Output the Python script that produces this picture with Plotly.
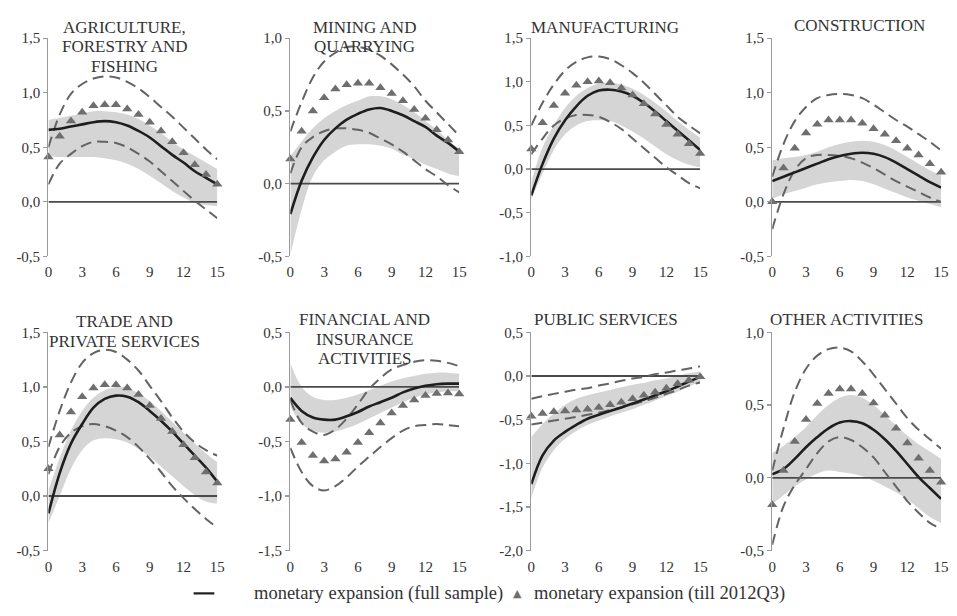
import plotly.graph_objects as go

# ---------------- data ----------------
horizon = list(range(16))
x_tick_vals = [0, 3, 6, 9, 12, 15]
x_tick_labels = ["0", "3", "6", "9", "12", "15"]

titles = [
    "AGRICULTURE,<br>FORESTRY AND<br>FISHING",
    "MINING AND<br>QUARRYING",
    "MANUFACTURING",
    "CONSTRUCTION",
    "TRADE AND<br>PRIVATE SERVICES",
    "FINANCIAL AND<br>INSURANCE<br>ACTIVITIES",
    "PUBLIC SERVICES",
    "OTHER ACTIVITIES",
]

y_tick_vals = [
    [-0.5, 0.0, 0.5, 1.0, 1.5],
    [-0.5, 0.0, 0.5, 1.0],
    [-1.0, -0.5, 0.0, 0.5, 1.0, 1.5],
    [-0.5, 0.0, 0.5, 1.0, 1.5],
    [-0.5, 0.0, 0.5, 1.0, 1.5],
    [-1.5, -1.0, -0.5, 0.0, 0.5],
    [-2.0, -1.5, -1.0, -0.5, 0.0, 0.5],
    [-0.5, 0.0, 0.5, 1.0],
]

legend_full = "monetary expansion (full sample)"
legend_till = "monetary expansion (till 2012Q3)"

# Agriculture, forestry and fishing
agri_full = [0.66, 0.67, 0.69, 0.71, 0.73, 0.74, 0.73, 0.70, 0.65, 0.59, 0.51, 0.43, 0.36, 0.28, 0.22, 0.16]
agri_till = [0.41, 0.60, 0.74, 0.82, 0.88, 0.89, 0.89, 0.85, 0.80, 0.73, 0.65, 0.55, 0.45, 0.34, 0.25, 0.16]
agri_till_hi = [0.50, 0.80, 0.99, 1.08, 1.13, 1.15, 1.14, 1.10, 1.04, 0.96, 0.87, 0.78, 0.68, 0.58, 0.48, 0.39]
agri_till_lo = [0.16, 0.35, 0.44, 0.51, 0.55, 0.55, 0.54, 0.50, 0.44, 0.37, 0.28, 0.19, 0.10, 0.01, -0.07, -0.15]
agri_band_hi = [0.75, 0.77, 0.79, 0.81, 0.83, 0.83, 0.82, 0.80, 0.76, 0.70, 0.63, 0.55, 0.48, 0.42, 0.36, 0.30]
agri_band_lo = [0.42, 0.41, 0.41, 0.41, 0.41, 0.40, 0.38, 0.35, 0.30, 0.24, 0.17, 0.10, 0.04, -0.01, -0.03, -0.04]

# Mining and quarrying
mine_full = [-0.21, 0.02, 0.18, 0.30, 0.38, 0.44, 0.48, 0.51, 0.52, 0.50, 0.47, 0.43, 0.39, 0.33, 0.28, 0.22]
mine_till = [0.17, 0.36, 0.50, 0.59, 0.65, 0.68, 0.69, 0.69, 0.66, 0.62, 0.57, 0.51, 0.45, 0.37, 0.30, 0.22]
mine_till_hi = [0.36, 0.56, 0.73, 0.84, 0.90, 0.94, 0.94, 0.92, 0.88, 0.82, 0.75, 0.67, 0.57, 0.49, 0.41, 0.33]
mine_till_lo = [0.07, 0.25, 0.32, 0.36, 0.38, 0.38, 0.37, 0.35, 0.31, 0.27, 0.22, 0.16, 0.10, 0.05, -0.01, -0.06]
mine_band_hi = [0.19, 0.29, 0.38, 0.45, 0.50, 0.54, 0.57, 0.60, 0.60, 0.58, 0.54, 0.49, 0.43, 0.37, 0.30, 0.24]
mine_band_lo = [-0.49, -0.18, 0.05, 0.16, 0.22, 0.26, 0.27, 0.27, 0.26, 0.24, 0.20, 0.17, 0.13, 0.10, 0.07, 0.05]

# Manufacturing
manu_full = [-0.30, 0.06, 0.35, 0.56, 0.72, 0.84, 0.90, 0.91, 0.89, 0.84, 0.76, 0.66, 0.55, 0.44, 0.33, 0.22]
manu_till = [0.23, 0.53, 0.73, 0.87, 0.96, 1.00, 1.01, 0.99, 0.93, 0.85, 0.75, 0.63, 0.51, 0.40, 0.29, 0.18]
manu_till_hi = [0.50, 0.76, 0.97, 1.13, 1.23, 1.28, 1.29, 1.26, 1.19, 1.10, 0.99, 0.86, 0.73, 0.60, 0.50, 0.41]
manu_till_lo = [0.17, 0.35, 0.50, 0.58, 0.62, 0.62, 0.60, 0.54, 0.46, 0.35, 0.24, 0.13, 0.02, -0.07, -0.16, -0.22]
manu_band_hi = [-0.15, 0.25, 0.50, 0.70, 0.84, 0.93, 0.98, 0.99, 0.97, 0.92, 0.85, 0.76, 0.66, 0.55, 0.45, 0.36]
manu_band_lo = [-0.35, -0.05, 0.22, 0.40, 0.50, 0.55, 0.56, 0.55, 0.50, 0.43, 0.35, 0.26, 0.17, 0.10, 0.05, 0.02]

# Construction
cons_full = [0.19, 0.23, 0.27, 0.31, 0.35, 0.39, 0.42, 0.44, 0.45, 0.44, 0.41, 0.36, 0.30, 0.24, 0.18, 0.13]
cons_till = [0.00, 0.31, 0.49, 0.63, 0.71, 0.75, 0.75, 0.75, 0.72, 0.67, 0.62, 0.56, 0.49, 0.43, 0.35, 0.27]
cons_till_hi = [0.23, 0.53, 0.74, 0.87, 0.95, 0.98, 0.99, 0.98, 0.95, 0.89, 0.82, 0.75, 0.69, 0.62, 0.55, 0.47]
cons_till_lo = [-0.25, 0.07, 0.29, 0.40, 0.43, 0.43, 0.42, 0.40, 0.36, 0.31, 0.25, 0.19, 0.14, 0.09, 0.04, 0.00]
cons_band_hi = [0.38, 0.40, 0.41, 0.43, 0.46, 0.50, 0.53, 0.55, 0.56, 0.55, 0.52, 0.47, 0.41, 0.35, 0.29, 0.24]
cons_band_lo = [0.03, 0.07, 0.10, 0.13, 0.16, 0.18, 0.19, 0.20, 0.19, 0.16, 0.12, 0.08, 0.04, 0.01, -0.02, -0.05]

# Trade and private services
trad_full = [-0.16, 0.21, 0.48, 0.66, 0.81, 0.89, 0.92, 0.91, 0.86, 0.78, 0.69, 0.59, 0.48, 0.37, 0.26, 0.13]
trad_till = [0.25, 0.56, 0.77, 0.91, 0.99, 1.02, 1.02, 0.99, 0.93, 0.83, 0.71, 0.59, 0.47, 0.35, 0.22, 0.12]
trad_till_hi = [0.45, 0.78, 1.04, 1.22, 1.31, 1.34, 1.32, 1.25, 1.15, 1.01, 0.87, 0.72, 0.59, 0.49, 0.42, 0.37]
trad_till_lo = [0.20, 0.45, 0.58, 0.64, 0.66, 0.64, 0.60, 0.54, 0.45, 0.34, 0.22, 0.09, -0.02, -0.12, -0.21, -0.29]
trad_band_hi = [0.05, 0.35, 0.60, 0.78, 0.90, 0.97, 1.00, 0.99, 0.94, 0.87, 0.78, 0.68, 0.58, 0.48, 0.39, 0.31]
trad_band_lo = [-0.25, 0.00, 0.25, 0.42, 0.51, 0.53, 0.52, 0.49, 0.43, 0.36, 0.27, 0.18, 0.09, 0.01, -0.05, -0.07]

# Financial and insurance activities
fina_full = [-0.10, -0.22, -0.28, -0.30, -0.30, -0.27, -0.23, -0.18, -0.14, -0.10, -0.05, -0.015, 0.01, 0.025, 0.03, 0.03]
fina_till = [-0.30, -0.51, -0.63, -0.68, -0.66, -0.60, -0.51, -0.42, -0.33, -0.24, -0.17, -0.12, -0.08, -0.06, -0.055, -0.065]
fina_till_hi = [-0.12, -0.33, -0.41, -0.44, -0.39, -0.29, -0.16, -0.02, 0.08, 0.16, 0.20, 0.23, 0.245, 0.24, 0.22, 0.19]
fina_till_lo = [-0.56, -0.78, -0.91, -0.95, -0.91, -0.83, -0.73, -0.64, -0.55, -0.47, -0.40, -0.36, -0.35, -0.34, -0.35, -0.36]
fina_band_hi = [0.22, 0.00, -0.09, -0.12, -0.12, -0.10, -0.07, -0.03, 0.01, 0.05, 0.08, 0.10, 0.12, 0.13, 0.13, 0.12]
fina_band_lo = [-0.18, -0.34, -0.40, -0.42, -0.41, -0.38, -0.34, -0.29, -0.24, -0.19, -0.14, -0.10, -0.07, -0.05, -0.04, -0.04]

# Public services
publ_full = [-1.24, -0.91, -0.74, -0.64, -0.56, -0.49, -0.445, -0.40, -0.36, -0.315, -0.27, -0.22, -0.175, -0.12, -0.065, -0.01]
publ_till = [-0.46, -0.43, -0.41, -0.40, -0.39, -0.38, -0.36, -0.33, -0.30, -0.26, -0.22, -0.185, -0.14, -0.09, -0.05, -0.01]
publ_till_hi = [-0.26, -0.23, -0.205, -0.18, -0.155, -0.14, -0.11, -0.085, -0.055, -0.03, -0.01, 0.02, 0.04, 0.065, 0.085, 0.11]
publ_till_lo = [-0.555, -0.535, -0.51, -0.49, -0.47, -0.445, -0.42, -0.39, -0.36, -0.325, -0.29, -0.25, -0.205, -0.16, -0.11, -0.075]
publ_band_hi = [-0.70, -0.55, -0.43, -0.33, -0.26, -0.22, -0.19, -0.16, -0.13, -0.10, -0.08, -0.05, -0.03, 0.00, 0.03, 0.05]
publ_band_lo = [-1.40, -1.05, -0.85, -0.72, -0.63, -0.56, -0.51, -0.46, -0.42, -0.38, -0.33, -0.28, -0.23, -0.18, -0.12, -0.07]

# Other activities
othr_full = [0.025, 0.06, 0.13, 0.21, 0.28, 0.34, 0.38, 0.39, 0.375, 0.33, 0.265, 0.185, 0.095, 0.005, -0.07, -0.145]
othr_till = [-0.185, 0.05, 0.25, 0.40, 0.51, 0.58, 0.61, 0.61, 0.58, 0.515, 0.43, 0.34, 0.24, 0.135, 0.05, -0.03]
othr_till_hi = [0.05, 0.34, 0.59, 0.75, 0.84, 0.885, 0.895, 0.87, 0.80, 0.71, 0.61, 0.51, 0.41, 0.33, 0.265, 0.20]
othr_till_lo = [-0.46, -0.195, -0.05, 0.06, 0.17, 0.25, 0.28, 0.26, 0.21, 0.14, 0.04, -0.06, -0.16, -0.24, -0.31, -0.35]
othr_band_hi = [0.17, 0.22, 0.28, 0.35, 0.43, 0.50, 0.55, 0.57, 0.55, 0.50, 0.43, 0.36, 0.29, 0.23, 0.18, 0.13]
othr_band_lo = [-0.18, -0.12, -0.06, -0.01, 0.03, 0.05, 0.04, 0.03, 0.01, -0.02, -0.06, -0.10, -0.15, -0.21, -0.27, -0.31]

panels = [
    (agri_full, agri_till, agri_till_hi, agri_till_lo, agri_band_hi, agri_band_lo),
    (mine_full, mine_till, mine_till_hi, mine_till_lo, mine_band_hi, mine_band_lo),
    (manu_full, manu_till, manu_till_hi, manu_till_lo, manu_band_hi, manu_band_lo),
    (cons_full, cons_till, cons_till_hi, cons_till_lo, cons_band_hi, cons_band_lo),
    (trad_full, trad_till, trad_till_hi, trad_till_lo, trad_band_hi, trad_band_lo),
    (fina_full, fina_till, fina_till_hi, fina_till_lo, fina_band_hi, fina_band_lo),
    (publ_full, publ_till, publ_till_hi, publ_till_lo, publ_band_hi, publ_band_lo),
    (othr_full, othr_till, othr_till_hi, othr_till_lo, othr_band_hi, othr_band_lo),
]

# ---------------- layout geometry (page pixels) ----------------
W, H = 957, 616


def px_x(p):
    return p / W


def px_y(p):
    return 1 - p / H


col_left = [45, 290, 534, 778]
plot_w = 171
row_span = [(31, 255), (333, 557)]
title_cx = [122, 365, 609, 866, 122, 365, 610, 853]
title_top = [20, 20, 20, 18, 322, 320, 320, 320]
line_gap = 20

FONT = "Liberation Serif, Times New Roman, serif"
TXT = "#333333"
BAND = "#d5d5d5"
DASH = "#636363"
SOLID = "#1e1e1e"
TRI = "#6e6e6e"

fig = go.Figure()
layout = {}
annotations = []

for i, (full, till, hi, lo, bhi, blo) in enumerate(panels):
    r, c = divmod(i, 4)
    sfx = "" if i == 0 else str(i + 1)
    xr, yr = f"x{sfx}", f"y{sfx}"

    # shaded band
    fig.add_trace(go.Scatter(x=horizon, y=blo, xaxis=xr, yaxis=yr, mode="lines",
                             line=dict(width=0, shape="spline", smoothing=1.0),
                             hoverinfo="skip", showlegend=False))
    fig.add_trace(go.Scatter(x=horizon, y=bhi, xaxis=xr, yaxis=yr, mode="lines",
                             line=dict(width=0, shape="spline", smoothing=1.0),
                             fill="tonexty", fillcolor=BAND,
                             hoverinfo="skip", showlegend=False))
    # zero line
    fig.add_trace(go.Scatter(x=[horizon[0], horizon[-1]], y=[0, 0], xaxis=xr, yaxis=yr,
                             mode="lines", line=dict(color="#4a4a4a", width=1.8),
                             hoverinfo="skip", showlegend=False))
    # dashed bands (till 2012Q3)
    for d in (hi, lo):
        fig.add_trace(go.Scatter(x=horizon, y=d, xaxis=xr, yaxis=yr, mode="lines",
                                 line=dict(color=DASH, width=2, dash="11px,6px",
                                           shape="spline", smoothing=1.0),
                                 showlegend=False, cliponaxis=False))
    # full sample
    fig.add_trace(go.Scatter(x=horizon, y=full, xaxis=xr, yaxis=yr, mode="lines",
                             line=dict(color=SOLID, width=2.6, shape="spline", smoothing=1.0),
                             name=legend_full, showlegend=False))
    # till 2012Q3
    fig.add_trace(go.Scatter(x=horizon, y=till, xaxis=xr, yaxis=yr, mode="markers",
                             marker=dict(symbol="triangle-up", size=9, color=TRI),
                             name=legend_till, showlegend=False,
                             cliponaxis=False))

    x0 = col_left[c]
    yt, yb = row_span[r]
    yv = y_tick_vals[i]
    layout[f"xaxis{sfx}"] = dict(
        domain=[px_x(x0), px_x(x0 + plot_w)], range=[0, 15], anchor=yr,
        tickvals=x_tick_vals, ticktext=x_tick_labels, showline=False, ticks="",
        showgrid=False, zeroline=False, ticklabelstandoff=5,
        tickfont=dict(family=FONT, size=15, color=TXT), fixedrange=True)
    layout[f"yaxis{sfx}"] = dict(
        domain=[px_y(yb), px_y(yt)], range=[yv[0], yv[-1]], anchor=xr,
        tickvals=yv, ticktext=[f"{v:.1f}".replace(".", ",") for v in yv],
        showline=True, linecolor="#9a9a9a", linewidth=1.3,
        ticks="outside", ticklen=4, tickcolor="#9a9a9a", tickwidth=1.3,
        showgrid=False, zeroline=False,
        tickfont=dict(family=FONT, size=15, color=TXT), fixedrange=True)

    for k, line in enumerate(titles[i].split("<br>")):
        annotations.append(dict(
            text=line, xref="paper", yref="paper",
            x=px_x(title_cx[i]), y=px_y(title_top[i] + k * line_gap),
            xanchor="center", yanchor="middle", showarrow=False,
            font=dict(family=FONT, size=17, color=TXT)))

# legend (drawn as keys + text at the bottom)
legend_y = px_y(601)
annotations += [
    dict(text=legend_full, xref="paper", yref="paper", x=px_x(251), y=legend_y,
         xanchor="left", yanchor="middle", showarrow=False,
         font=dict(family=FONT, size=18.5, color=TXT)),
    dict(text="▲", xref="paper", yref="paper", x=px_x(520), y=legend_y,
         xanchor="center", yanchor="middle", showarrow=False,
         font=dict(family="DejaVu Sans", size=11, color=TRI)),
    dict(text=legend_till, xref="paper", yref="paper", x=px_x(535), y=legend_y,
         xanchor="left", yanchor="middle", showarrow=False,
         font=dict(family=FONT, size=18.5, color=TXT)),
]
shapes = [dict(type="line", xref="paper", yref="paper",
               x0=px_x(192), x1=px_x(213), y0=legend_y, y1=legend_y,
               line=dict(color=SOLID, width=2.2))]

fig.update_layout(
    width=W, height=H,
    margin=dict(l=0, r=0, t=0, b=0),
    paper_bgcolor="white", plot_bgcolor="white",
    annotations=annotations, shapes=shapes,
    showlegend=False, hovermode=False,
    **layout,
)

fig.write_html(
    "out.html",
    config={"displayModeBar": False, "staticPlot": True},
    post_script="document.body.style.margin='0';document.body.style.overflow='hidden';",
)
